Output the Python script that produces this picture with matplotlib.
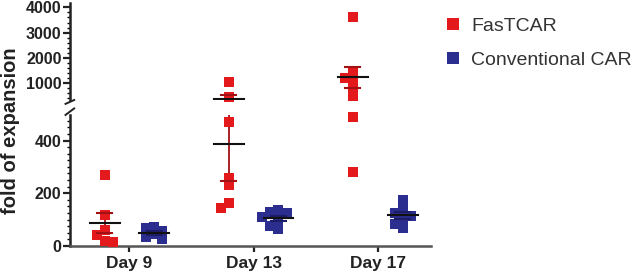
import numpy as np
import matplotlib.pyplot as plt
from matplotlib.ticker import MultipleLocator, FixedLocator

plt.rcParams['font.family'] = ['Liberation Sans', 'DejaVu Sans']
plt.rcParams['font.weight'] = 'bold'

# values
days = ['Day 9', 'Day 13', 'Day 17']
fastcar = [
    [269, 118, 60, 40, 20, 15],
    [1060, 470, 258, 231, 163, 144],
    [3600, 1400, 1200, 1000, 700, 491, 282],
]
conventional = [
    [72, 68, 55, 45, 35, 25],
    [135, 130, 125, 110, 95, 75, 65],
    [175, 140, 125, 115, 100, 85, 70],
]
series_names = ['FasTCAR', 'Conventional CAR']
colors = ['#e3191c', '#2b2d8f']
err_colors = ['#a01015', '#1c1d66']

lo_lim = (0, 497)
hi_lim = (340, 4170)

fig = plt.figure(figsize=(6.35, 2.77), dpi=100)
ax_lo = fig.add_axes([0.110, 0.112, 0.569, 0.473])
ax_hi = fig.add_axes([0.110, 0.639, 0.569, 0.350])

for ax, lim in ((ax_lo, lo_lim), (ax_hi, hi_lim)):
    ax.set_xlim(-0.48, 2.43)
    ax.set_ylim(*lim)
    for s in ('top', 'right'):
        ax.spines[s].set_visible(False)
    ax.spines['left'].set_linewidth(1.8)
    ax.spines['left'].set_color('#222222')
    ax.tick_params(axis='y', direction='out', length=5, width=1.6,
                   labelsize=11.5, pad=1, colors='#222222')
    ax.tick_params(axis='y', which='minor', length=2.5, width=1.0)

ax_hi.spines['bottom'].set_visible(False)
ax_hi.set_xticks([])
ax_hi.yaxis.set_major_locator(FixedLocator([1000, 2000, 3000, 4000]))
ax_hi.yaxis.set_minor_locator(MultipleLocator(200))
ax_lo.yaxis.set_major_locator(FixedLocator([0, 200, 400]))
ax_lo.yaxis.set_minor_locator(MultipleLocator(25))
ax_lo.spines['bottom'].set_linewidth(1.8)
ax_lo.spines['bottom'].set_color('#555555')
ax_lo.set_xticks(range(len(days)))
ax_lo.set_xticklabels(days, fontweight='bold', fontsize=12.5)
ax_lo.tick_params(axis='x', direction='out', length=4, width=1.6, pad=3,
                  colors='#222222')


def seg_ax(v):
    return ax_lo if v <= lo_lim[1] else ax_hi


def swarm(values, center):
    # spread points of similar value sideways, like a scatter dot plot
    placed = []
    xs = []
    step = 0.065
    for v in values:
        ax = seg_ax(v)
        py = ax.transData.transform((0, v))[1]
        for k in (0, -1, 1, -2, 2, -3, 3):
            x = center + k * step
            px = ax.transData.transform((x, 0))[0]
            if all(abs(px - qx) > 7 or abs(py - qy) > 7 for qx, qy in placed):
                break
        placed.append((px, py))
        xs.append(x)
    return xs


offsets = [-0.2, 0.2]
for si, data in enumerate((fastcar, conventional)):
    for di, vals in enumerate(data):
        center = di + offsets[si]
        vals = np.array(vals, dtype=float)
        xs = np.array(swarm(vals, center))
        for ax, lim in ((ax_lo, lo_lim), (ax_hi, hi_lim)):
            if ax is ax_lo:
                m = vals <= lim[1]
            else:
                m = vals >= lim[0]
            ax.plot(xs[m], vals[m], 's', color=colors[si], ms=7.5, mew=0,
                    clip_on=False, zorder=3)
        mean = vals.mean()
        sem = vals.std(ddof=1) / np.sqrt(len(vals))
        for ax in (ax_lo, ax_hi):
            ax.plot([center, center], [mean - sem, mean + sem],
                    color=err_colors[si], lw=1.3, zorder=2)
            for y in (mean - sem, mean + sem):
                ax.plot([center - 0.06, center + 0.06], [y, y],
                        color=err_colors[si], lw=1.5, zorder=4)
            ax.plot([center - 0.12, center + 0.12], [mean, mean],
                    color='#111111', lw=1.5, zorder=4)

# break marks on the y axis
kw = dict(color='#222222', lw=1.4, clip_on=False)
ax_hi.plot([-0.012, 0.012], [-0.04, 0.0], transform=ax_hi.transAxes, **kw)
ax_lo.plot([-0.012, 0.012], [1.0, 1.05], transform=ax_lo.transAxes, **kw)

fig.text(0.016, 0.53, 'fold of expansion', rotation=90, ha='center',
         va='center', fontsize=14.5, fontweight='bold', color='#222222')

handles = [plt.Line2D([], [], ls='', marker='s', ms=8, mew=0, color=c)
           for c in colors]
fig.legend(handles, series_names, loc='upper left',
           bbox_to_anchor=(0.672, 1.0), frameon=False,
           prop={'size': 14, 'weight': 'normal'},
           labelspacing=0.85, handletextpad=0.5, handlelength=0.9,
           labelcolor='#333333')

fig.savefig('out.png', dpi=100)
